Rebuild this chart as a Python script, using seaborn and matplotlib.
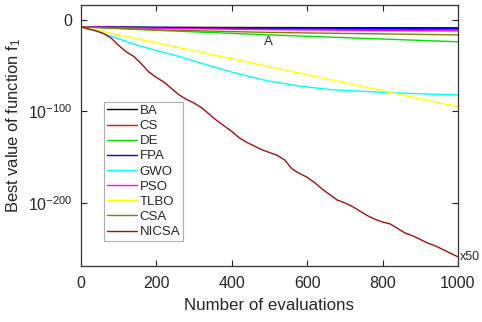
import matplotlib
matplotlib.use("Agg")
import matplotlib.pyplot as plt
import seaborn as sns
import pandas as pd

sns.set_style("ticks")
plt.rcParams['font.family'] = ['Liberation Sans', 'DejaVu Sans']
plt.rcParams['mathtext.fontset'] = 'custom'
plt.rcParams['mathtext.rm'] = 'Liberation Sans'
plt.rcParams['mathtext.it'] = 'Liberation Sans:italic'

# log10 of best value of f1 vs number of evaluations
evals_short = [0, 200, 500, 1000]
BA = [-7.7, -8.2, -8.5, -8.8]
CS = [-7.7, -8.8, -10.0, -11.0]
DE = [-7.7, -11.5, -16.5, -24.0]
FPA = [-7.7, -8.4, -9.0, -9.5]
PSO = [-7.7, -9.3, -10.8, -12.2]
CSA = [-7.7, -11.0, -13.8, -16.5]
TLBO_x = [0, 1000]
TLBO = [-7.7, -95.0]
GWO_x = [0, 40, 85, 150, 263, 316, 403, 493, 581, 668, 812, 934, 1000]
GWO = [-7.7, -12.5, -18.6, -28.0, -40.4, -47.0, -57.5, -66.5, -72.5, -76.5, -79.5, -81.3, -82.0]
NICSA_x = [0, 20, 40, 60, 80, 100, 120, 140, 160, 180, 200, 220, 240, 260, 280, 300,
           320, 340, 360, 380, 400, 420, 440, 460, 480, 500, 520, 540, 560, 580, 600,
           620, 640, 660, 680, 700, 720, 740, 760, 780, 800, 820, 840, 860, 880, 900,
           920, 940, 960, 980, 1000]
NICSA = [-7.7, -10, -12, -15, -20, -28, -35, -40, -48, -57, -63, -68, -75, -82, -87, -91,
         -96, -103, -110, -116, -122, -129, -134, -138, -142, -145, -148, -153, -163, -168, -172,
         -178, -185, -191, -197, -200, -204, -209, -214, -218, -221, -223, -228, -233, -236, -240,
         -244, -247, -251, -255, -259]

series = [
    ("BA", evals_short, BA, "#000000"),
    ("CS", evals_short, CS, "#ff0000"),
    ("DE", evals_short, DE, "#00e000"),
    ("FPA", evals_short, FPA, "#0000ff"),
    ("GWO", GWO_x, GWO, "#00ffff"),
    ("PSO", evals_short, PSO, "#ff00ff"),
    ("TLBO", TLBO_x, TLBO, "#ffff00"),
    ("CSA", evals_short, CSA, "#808000"),
    ("NICSA", NICSA_x, NICSA, "#a01010"),
]

fig = plt.figure(figsize=(4.82, 3.22), dpi=100)
ax = fig.add_axes([0.168, 0.174, 0.782, 0.810])

for name, xs, ys, col in series:
    sns.lineplot(x=xs, y=ys, color=col, label=name, linewidth=1.0, ax=ax)

ax.set_xlim(0, 1000)
ax.set_ylim(-269, 16)
ax.set_xticks([0, 200, 400, 600, 800, 1000])
ax.set_yticks([0, -100, -200])
ax.set_yticklabels(['0', r'$10^{-100}$', r'$10^{-200}$'])
ax.tick_params(direction='in', top=True, right=True, labelsize=11.5, length=4, width=0.8)
ax.tick_params(axis='x', pad=7)
ax.tick_params(axis='y', pad=6)
for s in ax.spines.values():
    s.set_linewidth(0.9)
    s.set_color('#333333')

ax.set_xlabel("Number of evaluations", fontsize=12.2, labelpad=5)
ax.set_ylabel(r"Best value of function f$_1$", fontsize=11.9)
ax.yaxis.set_label_coords(-0.155, 0.54)

ax.text(496, -24, "A", fontsize=9.5, ha='center', va='center')
ax.text(1004, -259, "x50", fontsize=9, ha='left', va='center')

leg = ax.legend(loc='upper left', bbox_to_anchor=(0.061, 0.628), fontsize=9.5,
                frameon=True, fancybox=False, handlelength=2.3, handletextpad=0.2,
                labelspacing=0.22, borderpad=0.2, borderaxespad=0)
leg.get_frame().set_edgecolor('#999999')
leg.get_frame().set_linewidth(0.8)

fig.savefig("out.png", dpi=100)
